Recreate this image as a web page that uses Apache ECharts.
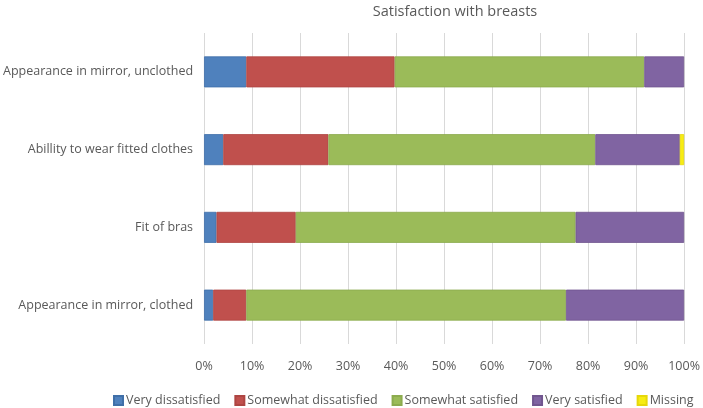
<!DOCTYPE html>
<html>
<head>
<meta charset="utf-8">
<script src="https://cdn.jsdelivr.net/npm/echarts@6/dist/echarts.min.js"></script>
<style>
html,body{margin:0;padding:0;background:#fff;}
#chart{width:703px;height:408px;}
</style>
</head>
<body>
<div id="chart"></div>
<script>
var categories = [
  "Appearance in mirror, unclothed",
  "Abillity to wear fitted clothes",
  "Fit of bras",
  "Appearance in mirror, clothed"
];
var seriesNames = ["Very dissatisfied", "Somewhat dissatisfied", "Somewhat satisfied", "Very satisfied", "Missing"];
var veryDissatisfied = [8.8, 4.0, 2.6, 1.9];
var somewhatDissatisfied = [30.9, 21.9, 16.5, 6.9];
var somewhatSatisfied = [52.0, 55.6, 58.3, 66.6];
var verySatisfied = [8.3, 17.6, 22.6, 24.6];
var missing = [0, 0.9, 0, 0];
var xTicks = [0, 10, 20, 30, 40, 50, 60, 70, 80, 90, 100];

var colors = ["#4F81BD", "#C0504D", "#9BBB59", "#8064A2", "#F7EC13"];
var borders = ["#3F6FA8", "#AE4542", "#8CAB4E", "#71568F", "#E6D80A"];
var values = [veryDissatisfied, somewhatDissatisfied, somewhatSatisfied, verySatisfied, missing];
var font = "'Open Sans', sans-serif";
var textColor = "#595959";

var chart = echarts.init(document.getElementById('chart'), null, {renderer: 'canvas'});
var series = seriesNames.map(function (name, i) {
  return {
    name: name,
    type: 'bar',
    stack: 'total',
    barWidth: 31,
    data: values[i].map(function (v) { return v === 0 ? '-' : v; }),
    itemStyle: {color: colors[i], borderColor: borders[i], borderWidth: 0.8},
    emphasis: {disabled: true}
  };
});

chart.setOption({
  animation: false,
  color: colors,
  title: {
    text: "Satisfaction with breasts",
    left: 450,
    top: -1,
    textAlign: 'center',
    textStyle: {fontFamily: font, fontSize: 14.5, fontWeight: 'normal', color: textColor}
  },
  legend: {
    data: seriesNames,
    left: 108,
    top: 389,
    padding: 5,
    itemWidth: 9,
    itemHeight: 9,
    itemGap: 14,
    icon: 'rect',
    textStyle: {fontFamily: font, fontSize: 12.5, color: textColor, padding: [0, 0, 0, -2]}
  },
  grid: {left: 204, right: 15, top: 33, bottom: 64, containLabel: false},
  xAxis: {
    type: 'value',
    min: xTicks[0],
    max: xTicks[xTicks.length - 1],
    interval: 10,
    axisLine: {show: false},
    axisTick: {show: false},
    splitLine: {show: true, lineStyle: {color: '#D9D9D9', width: 1}},
    axisLabel: {formatter: '{value}%', fontFamily: font, fontSize: 12.5, color: textColor, margin: 16}
  },
  yAxis: {
    type: 'category',
    data: categories,
    inverse: true,
    axisLine: {show: false},
    axisTick: {show: false},
    splitLine: {show: false},
    axisLabel: {fontFamily: font, fontSize: 12.5, color: textColor, margin: 11}
  },
  series: series
});
</script>
</body>
</html>
